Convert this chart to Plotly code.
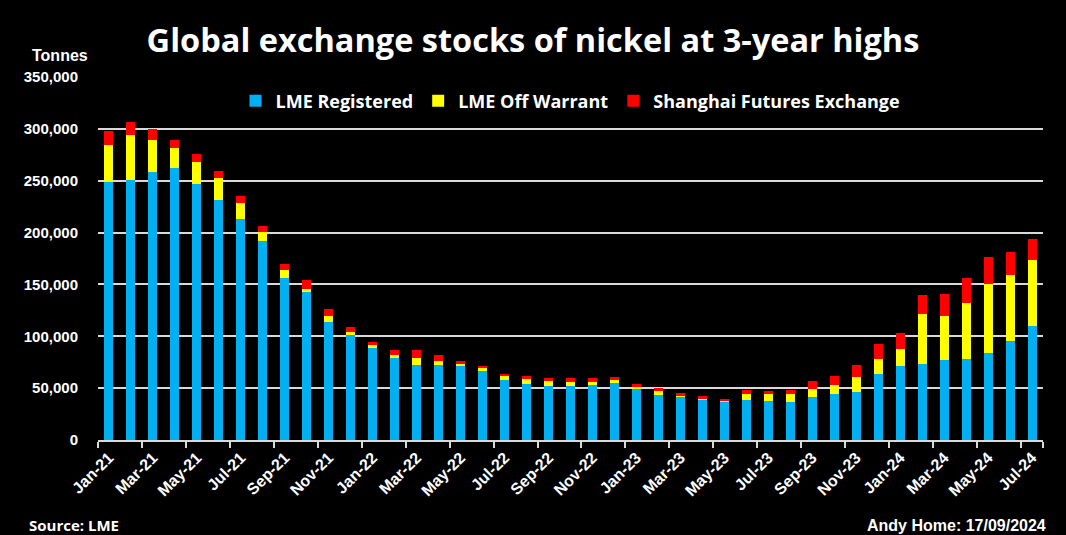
import plotly.graph_objects as go

months = ["Jan-21","Feb-21","Mar-21","Apr-21","May-21","Jun-21","Jul-21","Aug-21","Sep-21","Oct-21","Nov-21","Dec-21",
          "Jan-22","Feb-22","Mar-22","Apr-22","May-22","Jun-22","Jul-22","Aug-22","Sep-22","Oct-22","Nov-22","Dec-22",
          "Jan-23","Feb-23","Mar-23","Apr-23","May-23","Jun-23","Jul-23","Aug-23","Sep-23","Oct-23","Nov-23","Dec-23",
          "Jan-24","Feb-24","Mar-24","Apr-24","May-24","Jun-24","Jul-24"]

lme_registered = [248400, 250300, 258700, 261900, 246500, 231000, 212800, 191600, 156000, 142600, 113800, 101000,
                  88800, 79200, 72100, 72100, 71200, 66300, 58000, 54100, 51900, 51900, 52900, 54800,
                  49000, 43300, 42300, 39400, 37500, 38500, 37500, 36500, 41300, 44200, 46200, 63500,
                  71200, 73100, 76900, 77900, 83700, 95200, 109600]

lme_off_warrant = [36500, 44200, 30700, 20100, 21100, 21900, 15400, 9400, 7800, 2900, 5700, 3200,
                   2500, 2500, 7100, 4200, 2200, 3200, 3800, 4600, 4800, 3900, 3100, 3200,
                   2900, 3800, 1000, 1000, 500, 5700, 6700, 7700, 7700, 8700, 14400, 14400,
                   16300, 48100, 42300, 53800, 66300, 63500, 64400]

shfe = [13500, 12200, 10600, 7400, 7700, 6700, 7400, 5000, 5700, 8600, 6700, 4500,
        3300, 5100, 7600, 5800, 2900, 2000, 2000, 3100, 3200, 4100, 3900, 2900,
        1900, 2900, 1900, 1900, 1000, 3900, 2900, 3900, 7700, 8600, 11500, 14400,
        15400, 18200, 21200, 24100, 26000, 23000, 20200]

tick_labels = months[::2]

BLUE = "#00B0F0"
YELLOW = "#FFFF00"
RED = "#FF0000"
GRID = "#D9D9D9"
WIDE = "Open Sans, Roboto, sans-serif"
NARROW = "Liberation Sans Narrow, Arial Narrow, sans-serif"
ARIAL = "Liberation Sans, Arial, sans-serif"

fig = go.Figure()
for name, vals, col in [("LME Registered", lme_registered, BLUE),
                        ("LME Off Warrant", lme_off_warrant, YELLOW),
                        ("Shanghai Futures Exchange", shfe, RED)]:
    fig.add_trace(go.Bar(x=months, y=vals, name=name, marker=dict(color=col, line=dict(width=0))))

fig.update_layout(
    barmode="stack",
    bargap=0.59,
    width=1066, height=535,
    paper_bgcolor="black", plot_bgcolor="black",
    margin=dict(l=98, r=23, t=77, b=95),
    showlegend=True,
    legend=dict(orientation="h", x=0.5, xanchor="center", y=0.985, yanchor="top",
                yref="paper", font=dict(family=WIDE, size=18, color="white", weight="bold"),
                bgcolor="rgba(0,0,0,0)", itemwidth=30, traceorder="normal"),
    title=dict(text="<b>Global exchange stocks of nickel at 3-year highs</b>", x=0.5, xanchor="center",
               y=0.925, yanchor="middle", font=dict(family=WIDE, size=32.5, color="white")),
    xaxis=dict(type="category", tickmode="array", tickvals=tick_labels, ticktext=tick_labels,
               tickangle=-45, tickson="boundaries", ticks="outside", ticklen=6, tickwidth=2,
               tickcolor=GRID, showline=True, linecolor=GRID, linewidth=2, showgrid=False,
               tickfont=dict(family=NARROW, size=16, color="white", weight="bold")),
    yaxis=dict(range=[0, 350000], tickmode="linear", tick0=0, dtick=50000, tickformat=",",
               showgrid=True, gridcolor=GRID, gridwidth=2, zeroline=False, showline=False,
               ticks="outside", ticklen=16, tickcolor="rgba(0,0,0,0)",
               tickfont=dict(family=ARIAL, size=15, color="white", weight="bold")),
)

fig.add_annotation(text="<b>Tonnes</b>", xref="paper", yref="paper", x=-0.008, y=1.03,
                   xanchor="right", yanchor="bottom", showarrow=False,
                   font=dict(family=ARIAL, size=16, color="white"))
fig.add_annotation(text="<b>Source: LME</b>", xref="paper", yref="paper", x=-0.075, y=-0.235,
                   xanchor="left", yanchor="middle", showarrow=False,
                   font=dict(family=WIDE, size=15, color="white"))
fig.add_annotation(text="<b>Andy Home: 17/09/2024</b>", xref="paper", yref="paper", x=1.005, y=-0.235,
                   xanchor="right", yanchor="middle", showarrow=False,
                   font=dict(family=NARROW, size=16, color="white"))

fig.write_html("out.html")
